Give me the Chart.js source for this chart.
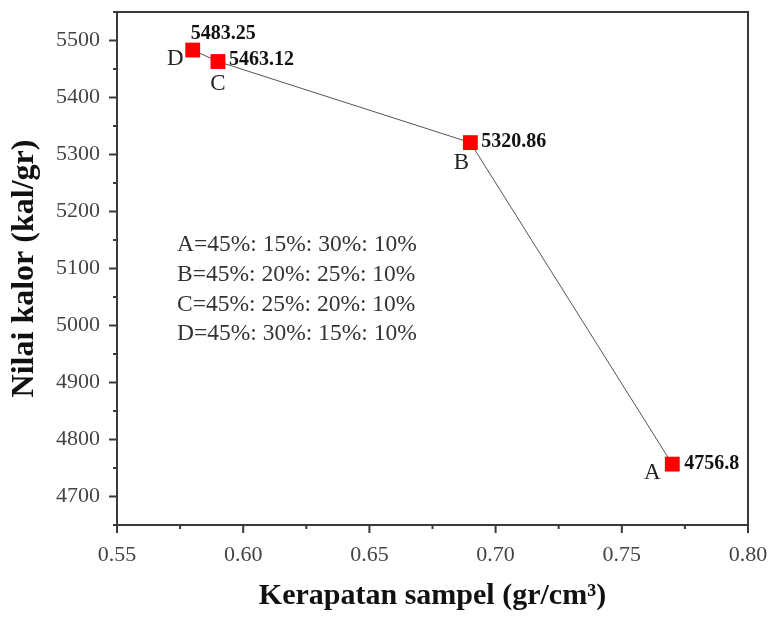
<!DOCTYPE html>
<html><head><meta charset="utf-8">
<script src="https://cdn.jsdelivr.net/npm/chart.js@4.4.1/dist/chart.umd.min.js"></script>
<style>html,body{margin:0;padding:0;background:#fff}#wrap{width:770px;height:618px}</style>
</head><body><div id="wrap"><canvas id="c" width="770" height="618"></canvas></div>
<script>
const sampleNames = ['D','C','B','A'];
const density = [0.58, 0.59, 0.69, 0.77];
const calorValue = [5483.25, 5463.12, 5320.86, 4756.8];
const valueLabels = ['5483.25','5463.12','5320.86','4756.8'];
const xMajorTicks = [0.55,0.60,0.65,0.70,0.75,0.80];
const xMinorTicks = [0.575,0.625,0.675,0.725,0.775];
const yMajorTicks = [4700,4800,4900,5000,5100,5200,5300,5400,5500];
const yMinorTicks = [4650,4750,4850,4950,5050,5150,5250,5350,5450,5550];
const compositionLines = ['A=45%: 15%: 30%: 10%','B=45%: 20%: 25%: 10%','C=45%: 25%: 20%: 10%','D=45%: 30%: 15%: 10%'];

const SERIF = '"Liberation Serif", "DejaVu Serif", serif';
const AXIS_COLOR = '#3a3a3a';

const labelPlugin = {
  id: 'labels',
  afterDraw(chart) {
    const {ctx, chartArea: a, scales} = chart;
    const xs = scales.x, ys = scales.y;
    ctx.save();
    ctx.strokeStyle = AXIS_COLOR; ctx.lineWidth = 2;
    ctx.strokeRect(a.left, a.top, a.right - a.left, a.bottom - a.top);
    ctx.beginPath();
    xMajorTicks.forEach(v => { const p = xs.getPixelForValue(v); ctx.moveTo(p, a.bottom); ctx.lineTo(p, a.bottom + 8); });
    xMinorTicks.forEach(v => { const p = xs.getPixelForValue(v); ctx.moveTo(p, a.bottom); ctx.lineTo(p, a.bottom + 4); });
    yMajorTicks.forEach(v => { const p = ys.getPixelForValue(v); ctx.moveTo(a.left, p); ctx.lineTo(a.left - 8, p); });
    yMinorTicks.forEach(v => { const p = ys.getPixelForValue(v); ctx.moveTo(a.left, p); ctx.lineTo(a.left - 4, p); });
    ctx.stroke();
    const offs = {
      D: {val:[-2,-16,'left'], name:[-9,9,'right']},
      C: {val:[11,-2,'left'], name:[0,22,'center']},
      B: {val:[11,-1,'left'], name:[-9,20,'center']},
      A: {val:[12,0,'left'], name:[-20,9,'center']}
    };
    ctx.textBaseline = 'middle';
    sampleNames.forEach((n, i) => {
      const px = xs.getPixelForValue(density[i]);
      const py = ys.getPixelForValue(calorValue[i]);
      const o = offs[n];
      ctx.fillStyle = '#111';
      ctx.font = 'bold 20px ' + SERIF;
      ctx.textAlign = o.val[2];
      ctx.fillText(valueLabels[i], px + o.val[0], py + o.val[1]);
      ctx.fillStyle = '#222';
      ctx.font = '23px ' + SERIF;
      ctx.textAlign = o.name[2];
      ctx.fillText(n, px + o.name[0], py + o.name[1]);
    });
    ctx.fillStyle = '#333';
    ctx.font = '23.5px ' + SERIF;
    ctx.textAlign = 'left';
    compositionLines.forEach((t, i) => ctx.fillText(t, 177, 245 + i * 29.7));
    ctx.restore();
  }
};

new Chart(document.getElementById('c'), {
  type: 'scatter',
  data: {
    datasets: [{
      data: density.map((x, i) => ({x, y: calorValue[i]})),
      showLine: true,
      borderColor: '#555',
      borderWidth: 1,
      pointStyle: 'rect',
      pointRadius: 10.5,
      pointHoverRadius: 10.5,
      pointBackgroundColor: '#ff0000',
      pointBorderColor: '#ff0000',
      pointBorderWidth: 0
    }]
  },
  options: {
    responsive: false,
    animation: false,
    layout: {padding: {top: 12, right: 22, left: 0, bottom: 0}},
    plugins: {legend: {display: false}, tooltip: {enabled: false}},
    scales: {
      x: {
        type: 'linear', min: 0.55, max: 0.80,
        afterBuildTicks: s => { s.ticks = xMajorTicks.map(v => ({value: v})); },
        afterFit: s => { s.height = 93; s.paddingLeft = 0; s.paddingRight = 0; },
        grid: {display: false, drawTicks: false},
        border: {display: false},
        ticks: {padding: 17, color: '#444', font: {family: SERIF, size: 22},
          callback: v => v.toFixed(2), maxRotation: 0, autoSkip: false},
        title: {display: true, text: 'Kerapatan sampel (gr/cm³)', color: '#111',
          font: {family: SERIF, size: 30, weight: 'bold'}, padding: {top: 0, bottom: 4}}
      },
      y: {
        type: 'linear', min: 4650, max: 5550,
        afterBuildTicks: s => { s.ticks = yMajorTicks.map(v => ({value: v})); },
        afterFit: s => { s.width = 117; s.paddingTop = 0; s.paddingBottom = 0; },
        grid: {display: false, drawTicks: false},
        border: {display: false},
        ticks: {padding: 17, color: '#444', font: {family: SERIF, size: 22}, autoSkip: false,
          callback: v => String(v)},
        title: {display: true, text: 'Nilai kalor (kal/gr)', color: '#111',
          font: {family: SERIF, size: 32, weight: 'bold'}, padding: {top: 6, bottom: 0}}
      }
    }
  },
  plugins: [labelPlugin]
});
</script></body></html>
